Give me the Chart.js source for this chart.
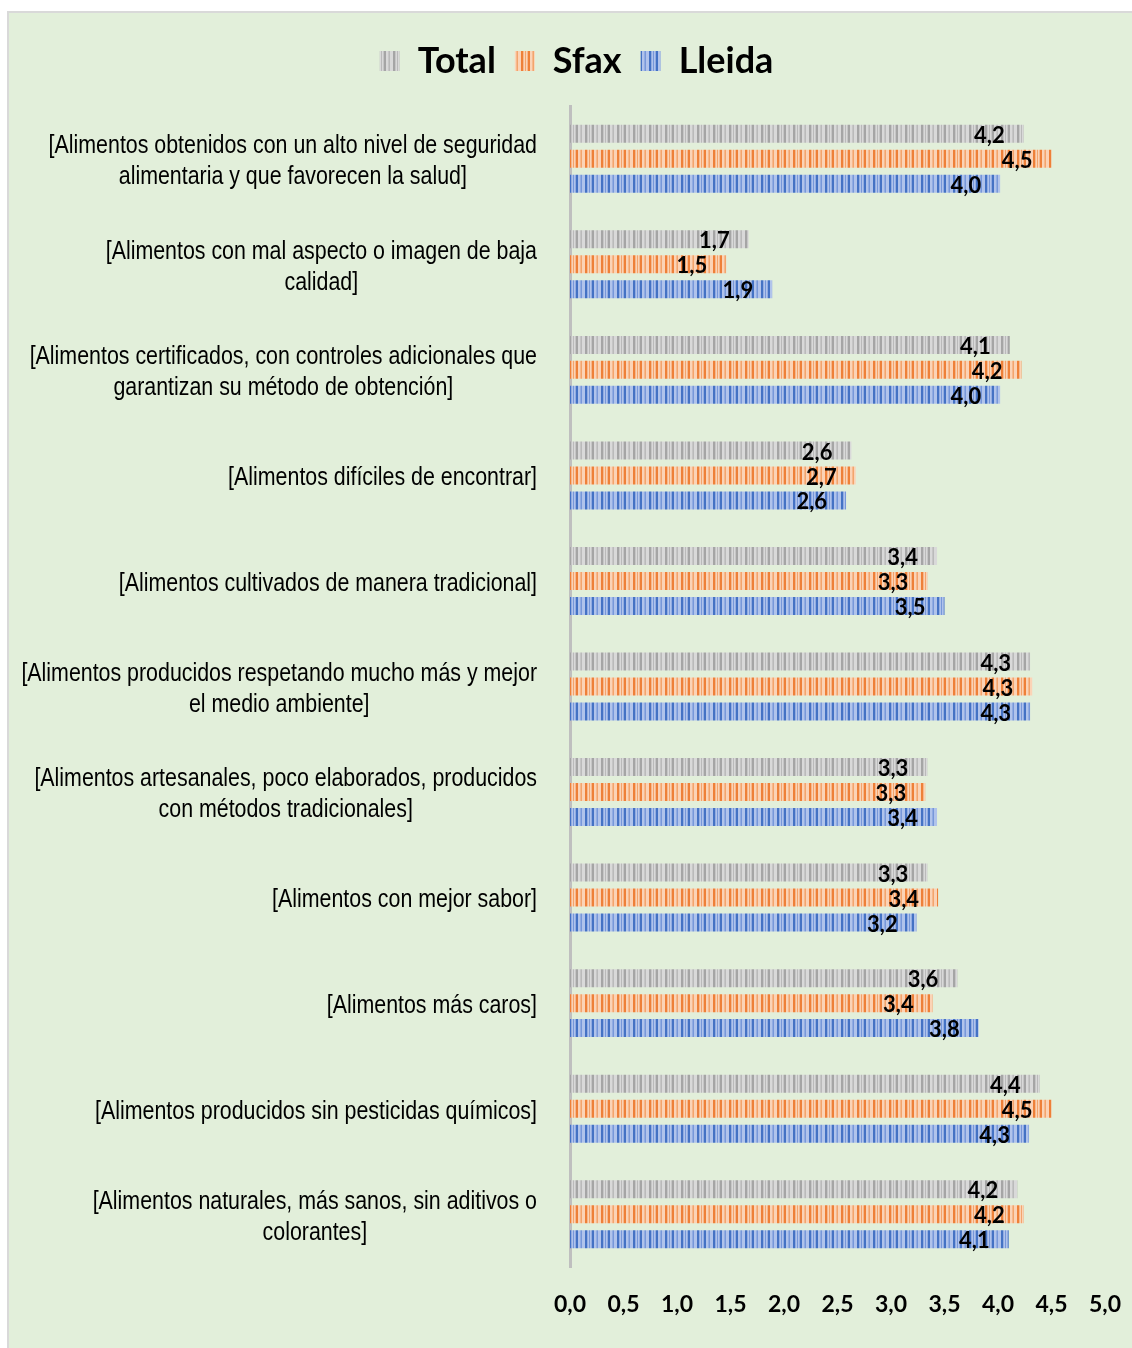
<!DOCTYPE html>
<html>
<head>
<meta charset="utf-8">
<script src="https://cdn.jsdelivr.net/npm/chart.js@4.4.1/dist/chart.umd.min.js"></script>
<style>
  html, body { margin: 0; padding: 0; background: #ffffff; }
  #panel {
    position: absolute; left: 7px; top: 11px;
    width: 1125px; height: 1337px;
    background: #e2efda;
    border-left: 2px solid #d9d9d9; border-top: 2px solid #d9d9d9;
    box-sizing: border-box;
  }
  #chart { display: block; }
</style>
</head>
<body>
<div id="panel"><canvas id="chart" width="1123" height="1335"></canvas></div>
<script>
// Category labels, already split into the lines they wrap to
const categories = [
  ['[Alimentos obtenidos con un alto nivel de seguridad', 'alimentaria y que favorecen la salud]'],
  ['[Alimentos con mal aspecto o imagen de baja', 'calidad]'],
  ['[Alimentos certificados, con controles adicionales que', 'garantizan su método de obtención]'],
  ['[Alimentos difíciles de encontrar]'],
  ['[Alimentos cultivados de manera tradicional]'],
  ['[Alimentos producidos respetando mucho más y mejor', 'el medio ambiente]'],
  ['[Alimentos artesanales, poco elaborados, producidos', 'con métodos tradicionales]'],
  ['[Alimentos con mejor sabor]'],
  ['[Alimentos más caros]'],
  ['[Alimentos producidos sin pesticidas químicos]'],
  ['[Alimentos naturales, más sanos, sin aditivos o', 'colorantes]']
];

const seriesNames = ['Total', 'Sfax', 'Lleida'];
const totalValues  = [4.24, 1.67, 4.11, 2.63, 3.43, 4.30, 3.34, 3.34, 3.62, 4.39, 4.18];
const sfaxValues   = [4.50, 1.46, 4.22, 2.67, 3.34, 4.32, 3.32, 3.44, 3.39, 4.50, 4.24];
const lleidaValues = [4.02, 1.89, 4.02, 2.58, 3.50, 4.30, 3.43, 3.24, 3.82, 4.29, 4.10];

const xMin = 0, xMax = 5, xStep = 0.5;

const fmt = v => v.toFixed(1).replace('.', ',');

const canvas = document.getElementById('chart');
const ctx = canvas.getContext('2d');

// vertical striped fill, repeated every 16px; d = dark, m = mid, s = soft edge
function stripes(base, dark, mid, soft) {
  const tile = document.createElement('canvas');
  tile.width = 16;
  tile.height = 4;
  const g = tile.getContext('2d');
  g.fillStyle = base;
  g.fillRect(0, 0, 16, 4);
  const layout = 'dds.m.sdd..sm...';
  const shade = { d: dark, m: mid, s: soft };
  for (let i = 0; i < layout.length; i++) {
    if (!shade[layout[i]]) continue;
    g.fillStyle = shade[layout[i]];
    g.fillRect(i, 0, 1, 4);
  }
  return ctx.createPattern(tile, 'repeat');
}

const grayFill = stripes('#d9d9d9', '#a5a5a5', '#bababa', '#c6c6c6');
const orangeFill = stripes('#fbd3b6', '#ee8038', '#f3a46c', '#f6b88c');
const blueFill = stripes('#b0c3eb', '#4472c4', '#7797d9', '#91ace2');

// wrapped labels: block right aligned, lines centered inside it
const categoryLabels = {
  id: 'categoryLabels',
  afterDraw(chart) {
    const c = chart.ctx;
    const y = chart.scales.y;
    const right = 528;
    const lineGap = 31;
    const squeeze = 0.855;
    c.save();
    c.font = '25px "Liberation Sans", Arial, sans-serif';
    c.fillStyle = '#000000';
    c.textAlign = 'center';
    c.textBaseline = 'middle';
    categories.forEach((lines, i) => {
      const widths = lines.map(l => c.measureText(l).width * squeeze);
      const cx = right - Math.max(...widths) / 2;
      const cy = y.getPixelForValue(i) + 3;
      lines.forEach((line, k) => {
        c.fillText(line, cx, cy + (k - (lines.length - 1) / 2) * lineGap, widths[k]);
      });
    });
    c.restore();
  }
};

// value labels at the inner end of each bar
const valueLabels = {
  id: 'valueLabels',
  afterDatasetsDraw(chart) {
    const c = chart.ctx;
    c.save();
    c.font = 'bold 22px Lato, "Open Sans", sans-serif';
    c.fillStyle = '#000000';
    c.textAlign = 'right';
    c.textBaseline = 'middle';
    chart.data.datasets.forEach((ds, di) => {
      chart.getDatasetMeta(di).data.forEach((bar, i) => {
        c.fillText(fmt(ds.data[i]), bar.x - 19, bar.y + 2);
      });
    });
    c.restore();
  }
};

// extra space under the legend
const legendGap = {
  id: 'legendGap',
  beforeLayout(chart) {
    const lg = chart.legend;
    if (lg && !lg._gapAdded) {
      const fit = lg.fit;
      lg.fit = function () {
        fit.call(this);
        this.height += 17;
      };
      lg._gapAdded = true;
    }
  }
};

new Chart(ctx, {
  type: 'bar',
  data: {
    labels: categories.map(l => l.join(' ')),
    datasets: [
      { label: seriesNames[0], data: totalValues, backgroundColor: grayFill },
      { label: seriesNames[1], data: sfaxValues, backgroundColor: orangeFill },
      { label: seriesNames[2], data: lleidaValues, backgroundColor: blueFill }
    ]
  },
  options: {
    indexAxis: 'y',
    responsive: false,
    animation: false,
    categoryPercentage: 0.71,
    barPercentage: 0.72,
    layout: { padding: { top: 11, right: 27, bottom: 0, left: 39 } },
    plugins: {
      legend: {
        display: true,
        position: 'top',
        labels: {
          color: '#000000',
          boxWidth: 20,
          boxHeight: 20,
          padding: 19,
          font: { family: 'Lato, "Open Sans", sans-serif', size: 36, weight: 'bold' }
        }
      },
      tooltip: { enabled: false }
    },
    scales: {
      x: {
        type: 'linear',
        min: xMin,
        max: xMax,
        grid: { display: false, drawTicks: true, tickLength: 20 },
        border: { display: false },
        ticks: {
          stepSize: xStep,
          padding: 4,
          color: '#000000',
          font: { family: 'Lato, "Open Sans", sans-serif', size: 23, weight: 'bold' },
          callback: v => fmt(v)
        },
        afterFit(scale) { scale.height = 81; }
      },
      y: {
        type: 'category',
        grid: { display: false, drawTicks: false },
        border: { display: true, color: '#bfbfbf', width: 3 },
        ticks: { display: false },
        afterFit(scale) { scale.width = 522; }
      }
    }
  },
  plugins: [legendGap, categoryLabels, valueLabels]
});
</script>
</body>
</html>
